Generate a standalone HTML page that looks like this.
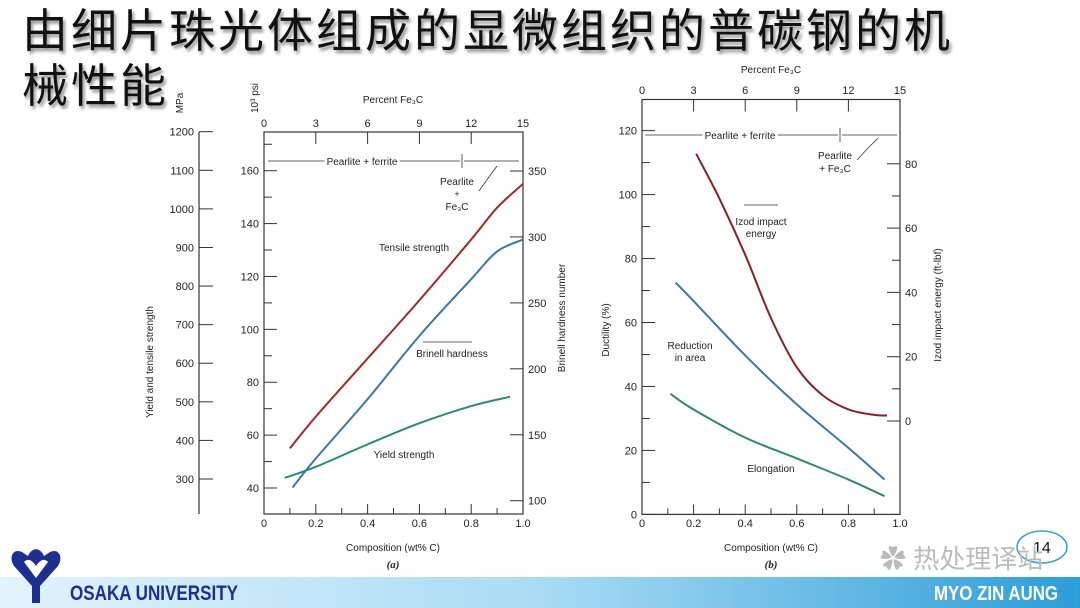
<!DOCTYPE html>
<html><head><meta charset="utf-8"><style>
html,body{margin:0;padding:0;background:#fff}
body{width:1080px;height:608px;overflow:hidden;position:relative;font-family:"Liberation Sans",sans-serif}
#title{position:absolute;left:22px;top:4px;font-family:"Liberation Sans","Noto Sans CJK SC",sans-serif;font-size:46px;line-height:55px;letter-spacing:3px;color:#111;font-weight:400;text-shadow:2px 3px 3px rgba(0,0,0,.45);margin:0}
svg{position:absolute;left:0;top:0}
</style></head><body>
<h1 id="title">由细片珠光体组成的显微组织的普碳钢的机<br>械性能</h1>
<svg id="s" width="1080" height="608">
<defs><linearGradient id="band" x1="0" x2="1"><stop offset="0" stop-color="#e3f3fc"/><stop offset="0.5" stop-color="#a9dcf4"/><stop offset="1" stop-color="#2d9dd8"/></linearGradient></defs>
<rect x="0" y="577" width="1080" height="31" fill="url(#band)"/>
<path d="M14,566 C8,556 14,548 22,552 L28,556 C32,547 40,547 44,556 L50,552 C58,548 64,556 58,566 L40,586 L40,603 L32,603 L32,586 Z M24,562 L36,578 L48,562 C44,558 40,560 36,566 C32,560 28,558 24,562 Z" fill="#1e2f8f" fill-rule="evenodd"/>
<text x="70" y="600" font-size="21" font-weight="bold" fill="#1e2f8f" textLength="168" lengthAdjust="spacingAndGlyphs">OSAKA UNIVERSITY</text>
<text x="934" y="600" font-size="20" font-weight="bold" fill="#fff" textLength="124" lengthAdjust="spacingAndGlyphs">MYO ZIN AUNG</text>
<ellipse cx="1042" cy="547" rx="25" ry="16" fill="none" stroke="#3aa0c8" stroke-width="1.5"/>
<text x="1033" y="553" font-size="16" fill="#111">14</text>
<text x="880" y="568" font-size="26" fill="#bbb" font-family="Liberation Sans, Noto Sans CJK SC, sans-serif">✿ 热处理译站</text>
<g id="ca"></g>
<g id="cb"></g>
</svg>
<script>
// ---- Chart (a) data ----
const tensileX=[0.1,0.2,0.4,0.6,0.8,0.9,1.0];
const tensilePsi=[55,67,89,111,134,146,155];
const brinellX=[0.11,0.2,0.4,0.6,0.8,0.9,1.0];
const brinellHB=[110,132,177,225,268,289,298];
const yieldX=[0.08,0.2,0.4,0.6,0.8,0.95];
const yieldPsi=[43.8,48,56.5,64.5,71,74.5];
const psiTicks=[40,60,80,100,120,140,160];
const mpaTicks=[300,400,500,600,700,800,900,1000,1100,1200];
const hbTicks=[100,150,200,250,300,350];
const compTicks=[0,0.2,0.4,0.6,0.8,1.0];
const fe3cTicks=[0,3,6,9,12,15];
// ---- Chart (b) data ----
const izodX=[0.21,0.3,0.4,0.5,0.6,0.7,0.8,0.9,0.95];
const izodE=[83.1,69.2,51.7,32,16.7,8,3.6,1.9,1.7];
const raX=[0.13,0.2,0.4,0.6,0.8,0.94];
const raD=[72.5,66.7,49.7,34.4,20.8,10.9];
const elX=[0.11,0.2,0.4,0.6,0.8,0.94];
const elD=[37.7,32.8,24,17.5,10.9,5.7];
const ductTicks=[0,20,40,60,80,100,120];
const izodTicks=[0,20,40,60,80];

const NS="http://www.w3.org/2000/svg";
function mk(p,tag,at,txt){const e=document.createElementNS(NS,tag);for(const k in at)e.setAttribute(k,at[k]);if(txt!=null)e.textContent=txt;p.appendChild(e);return e;}
function line(p,x1,y1,x2,y2,w,c){return mk(p,'line',{x1,y1,x2,y2,stroke:c||'#333','stroke-width':w||1});}
function txt(p,x,y,s,fs,anchor,extra){const t=mk(p,'text',Object.assign({x,y,'font-size':fs||11,'text-anchor':anchor||'middle',fill:'#222'},extra||{}),s);return t;}
function curve(p,xs,ys,sx,sy,col){let d='';const P=xs.map((x,i)=>[sx(x),sy(ys[i])]);
 d='M'+P[0][0]+','+P[0][1];
 for(let i=0;i<P.length-1;i++){const p0=P[Math.max(0,i-1)],p1=P[i],p2=P[i+1],p3=P[Math.min(P.length-1,i+2)];
  const c1=[p1[0]+(p2[0]-p0[0])/6,p1[1]+(p2[1]-p0[1])/6],c2=[p2[0]-(p3[0]-p1[0])/6,p2[1]-(p3[1]-p1[1])/6];
  d+=' C'+c1+' '+c2+' '+p2;}
 return mk(p,'path',{d,fill:'none',stroke:col,'stroke-width':2});}

// ===== Chart a =====
const A=document.getElementById('ca');
const ax0=264,ax1=523,ay0=132,ay1=514;
const xA=v=>ax0+v*(ax1-ax0);
const yPsi=v=>488-(v-40)*(317.3/120);
const yMpa=v=>479-(v-300)*(347.3/900);
const yHB=v=>500.7-(v-100)*(329.7/250);
let r=mk(A,'rect',{x:ax0,y:ay0,width:ax1-ax0,height:ay1-ay0,fill:'none',stroke:'#333','stroke-width':1.2});

compTicks.forEach(v=>{line(A,xA(v),ay1,xA(v),ay1-10);txt(A,xA(v),527,v===0?'0':v.toFixed(1),11);});
[0.1,0.3,0.5,0.7,0.9].forEach(v=>line(A,xA(v),ay1,xA(v),ay1-6));
fe3cTicks.forEach(v=>{line(A,xA(v/15),ay0,xA(v/15),ay0+12);txt(A,xA(v/15),127,String(v),11);});
psiTicks.forEach(v=>{line(A,ax0,yPsi(v),ax0+13,yPsi(v));txt(A,ax0-5,yPsi(v)+4,String(v),11,'end');});
[50,70,90,110,130,150,170].forEach(v=>line(A,ax0,yPsi(v),ax0+8,yPsi(v)));
hbTicks.forEach(v=>{line(A,ax1,yHB(v),ax1-13,yHB(v));txt(A,ax1+5,yHB(v)+4,String(v),11,'start');});
line(A,199,ay0,199,ay1,1.2);
mpaTicks.forEach(v=>{line(A,199,yMpa(v),213,yMpa(v));txt(A,194,yMpa(v)+4,String(v),11,'end');});
txt(A,393,103,'Percent Fe₃C',10);
txt(A,393,551,'Composition (wt% C)',10);txt(A,393,568,'(a)',11,'middle',{'font-style':'italic','font-weight':'bold','font-family':'Liberation Serif'});
txt(A,153,362,'Yield and tensile strength',10,'middle',{transform:'rotate(-90 153 362)'});
txt(A,183,103,'MPa',10,'middle',{transform:'rotate(-90 183 103)'});
txt(A,258,98,'10³ psi',10,'middle',{transform:'rotate(-90 258 98)'});
txt(A,565,318,'Brinell hardness number',10,'middle',{transform:'rotate(-90 565 318)'});
line(A,268,161,460,161,0.8);line(A,464,161,519,161,0.8);line(A,462,154,462,168,0.8);
txt(A,362,165,'Pearlite + ferrite',10,'middle',{style:'paint-order:stroke',stroke:'#fff','stroke-width':6});
txt(A,457,185,'Pearlite',10);txt(A,457,197,'+',9);txt(A,457,210,'Fe₃C',10);
mk(A,'path',{d:'M479,191 Q488,178 497,166',fill:'none',stroke:'#333','stroke-width':0.8});
txt(A,414,251,'Tensile strength',10);txt(A,452,357,'Brinell hardness',10);txt(A,404,458,'Yield strength',10);
line(A,423,342,472,342,0.8);
let c=curve(A,tensileX,tensilePsi,xA,yPsi,'#a3272b');
c=curve(A,brinellX,brinellHB,xA,yHB,'#3f74a8');
c=curve(A,yieldX,yieldPsi,xA,yPsi,'#2f8a6a');

// ===== Chart b =====
const B=document.getElementById('cb');
const bx0=642,bx1=900,by0=99.5,by1=514.4;
const xB=v=>bx0+v*(bx1-bx0);
const yD=v=>514.4-v*(383.8/120);
const yI=v=>421-v*(257.2/80);
r=mk(B,'rect',{x:bx0,y:by0,width:bx1-bx0,height:by1-by0,fill:'none',stroke:'#333','stroke-width':1.2});

compTicks.forEach(v=>{line(B,xB(v),by1,xB(v),by1-10);txt(B,xB(v),527,v===0?'0':v.toFixed(1),11);});
[0.1,0.3,0.5,0.7,0.9].forEach(v=>line(B,xB(v),by1,xB(v),by1-6));
fe3cTicks.forEach(v=>{line(B,xB(v/15),by0,xB(v/15),by0+12);txt(B,xB(v/15),94,String(v),11);});
ductTicks.forEach(v=>{line(B,bx0,yD(v),bx0+13,yD(v));txt(B,bx0-5,yD(v)+4,String(v),11,'end');});
[10,30,50,70,90,110].forEach(v=>line(B,bx0,yD(v),bx0+8,yD(v)));
izodTicks.forEach(v=>{line(B,bx1,yI(v),bx1-13,yI(v));txt(B,bx1+5,yI(v)+4,String(v),11,'start');});
[10,30,50,70].forEach(v=>line(B,bx1,yI(v),bx1-8,yI(v)));
txt(B,771,73,'Percent Fe₃C',10);
txt(B,771,551,'Composition (wt% C)',10);txt(B,771,568,'(b)',11,'middle',{'font-style':'italic','font-weight':'bold','font-family':'Liberation Serif'});
txt(B,609,330,'Ductility (%)',10,'middle',{transform:'rotate(-90 609 330)'});
txt(B,941,305,'Izod impact energy (ft-lbf)',10,'middle',{transform:'rotate(-90 941 305)'});
line(B,645,135,838,135,0.8);line(B,842,135,897,135,0.8);line(B,840,128,840,142,0.8);
txt(B,740,139,'Pearlite + ferrite',10,'middle',{style:'paint-order:stroke',stroke:'#fff','stroke-width':6});
txt(B,835,159,'Pearlite',10);txt(B,835,172,'+ Fe₃C',10);
mk(B,'path',{d:'M857,160 Q866,150 878,138',fill:'none',stroke:'#333','stroke-width':0.8});
line(B,744,205,778,205,0.8);
txt(B,761,225,'Izod impact',10);txt(B,761,237,'energy',10);
txt(B,690,349,'Reduction',10);txt(B,690,361,'in area',10);txt(B,771,472,'Elongation',10);
c=curve(B,izodX,izodE,xB,yI,'#8a1f24');
c=curve(B,raX,raD,xB,yD,'#3f74a8');
c=curve(B,elX,elD,xB,yD,'#2f8a6a');
</script>
</body></html>
